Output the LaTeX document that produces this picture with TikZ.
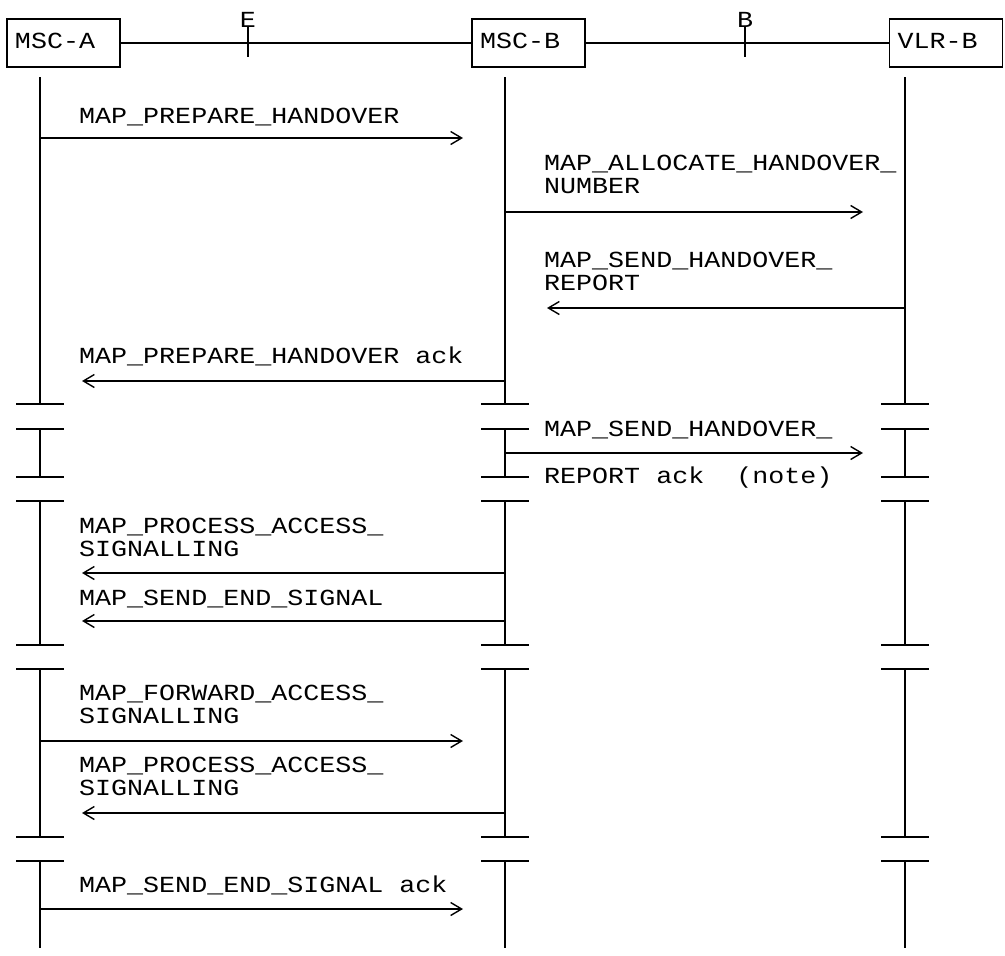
\documentclass[tikz,border=0pt]{standalone}
\usepackage{fontspec}
\setmonofont[FakeStretch=1.16]{Liberation Mono}
\usetikzlibrary{arrows.meta}

\begin{document}
\begin{tikzpicture}[
    x=1pt, y=-1pt,
    font=\ttfamily\fontsize{23}{23}\selectfont,
    >={Straight Barb[length=11pt,width=13pt,line width=1.4pt]},
    ent/.style={draw, line width=1.6pt, minimum height=48pt, text width=97pt,
                inner xsep=8pt, inner ysep=0pt, align=left,
                text height=18pt, text depth=7pt},
    lbl/.style={inner sep=0pt, anchor=base west, align=left},
    ifc/.style={inner sep=0pt, anchor=base},
    msg/.style={->, line width=1.5pt, shorten >=42pt},
    life/.style={line width=1.6pt},
  ]
  \useasboundingbox (0,0) rectangle (1005,956);

  %% ---- entities and interfaces ---------------------------------------
  \node[ent] (msca) at (63.5,43) {MSC-A};
  \node[ent] (mscb) at (528.5,43) {MSC-B};
  \node[ent] (vlrb) at (946,43) {VLR-B};
  \draw[life] (msca) -- (mscb) (mscb) -- (vlrb);

  \node[ifc] (ie) at (248,27) {E};
  \node[ifc] (ib) at (745,27) {B};
  \draw[life] (ie.south) -- (ie.south |- 0,57);
  \draw[life] (ib.south) -- (ib.south |- 0,57);

  %% ---- lifelines with breaks -----------------------------------------
  \foreach \x in {40,505,905} {
    \draw[life] (\x,77) -- (\x,404) (\x,429) -- (\x,477) (\x,501) -- (\x,645)
                (\x,669) -- (\x,837) (\x,861) -- (\x,948);
    \foreach \y in {404,429,477,501,645,669,837,861}
      \draw[life] (\x-24,\y) -- (\x+24,\y);
  }

  %% ---- message rows (label base = last line) --------------------------
  \foreach \n/\y in {1/138,2/212,3/308,4/381,5/453,6/573,7/621,8/741,9/813,10/909} {
    \coordinate (a\n) at (40,\y);
    \coordinate (b\n) at (505,\y);
    \coordinate (v\n) at (905,\y);
  }

  \node[lbl] (t1) at (79,123) {MAP\_PREPARE\_HANDOVER};
  \draw[msg] (a1) -- (b1);

  \node[lbl] (t2) at (544,193) {MAP\_ALLOCATE\_HANDOVER\_\\NUMBER};
  \draw[msg] (b2) -- (v2);

  \node[lbl] (t3) at (544,290) {MAP\_SEND\_HANDOVER\_\\REPORT};
  \draw[msg] (v3) -- (b3);

  \node[lbl] (t4) at (79,363) {MAP\_PREPARE\_HANDOVER ack};
  \draw[msg] (b4) -- (a4);

  \node[lbl] (t5)  at (544,436) {MAP\_SEND\_HANDOVER\_};
  \node[lbl] (t5b) at (544,483) {REPORT ack~~(note)};
  \draw[msg] (b5) -- (v5);

  \node[lbl] (t6) at (79,556) {MAP\_PROCESS\_ACCESS\_\\SIGNALLING};
  \draw[msg] (b6) -- (a6);

  \node[lbl] (t7) at (79,605) {MAP\_SEND\_END\_SIGNAL};
  \draw[msg] (b7) -- (a7);

  \node[lbl] (t8) at (79,723) {MAP\_FORWARD\_ACCESS\_\\SIGNALLING};
  \draw[msg] (a8) -- (b8);

  \node[lbl] (t9) at (79,795) {MAP\_PROCESS\_ACCESS\_\\SIGNALLING};
  \draw[msg] (b9) -- (a9);

  \node[lbl] (t10) at (79,892) {MAP\_SEND\_END\_SIGNAL ack};
  \draw[msg] (a10) -- (b10);

\end{tikzpicture}
\end{document}
